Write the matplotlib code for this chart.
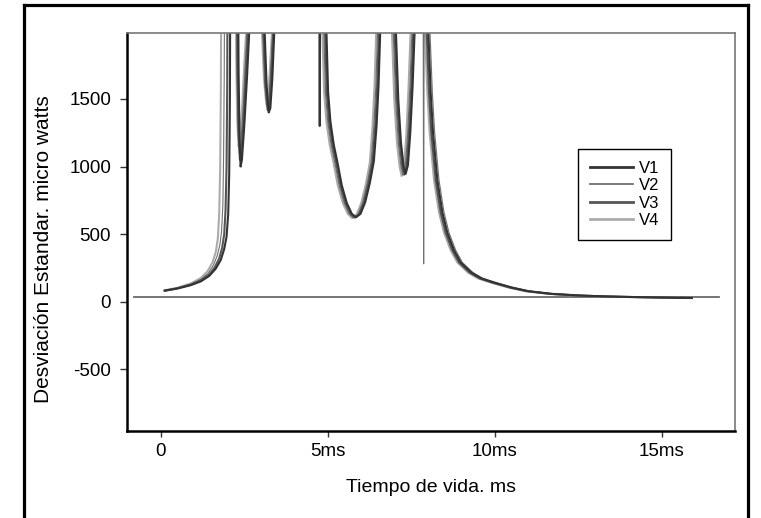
import matplotlib
matplotlib.use("Agg")
import matplotlib.pyplot as plt
from matplotlib.lines import Line2D

plt.rcParams['font.family'] = ['Liberation Sans', 'DejaVu Sans']
plt.rcParams['axes.unicode_minus'] = False

# Section 0: Data (values above ~2000 are off the top of the plot)

series_names = ['V1', 'V2', 'V3', 'V4']

t_v1 = [0.12, 0.5, 0.9, 1.2, 1.45, 1.65, 1.8, 1.9, 1.97, 2.02, 2.05, 2.07, 2.09,
        2.30, 2.33, 2.36, 2.39, 2.43, 2.50, 2.58, 2.65, 2.70,
        3.05, 3.11, 3.17, 3.23, 3.28, 3.34, 3.40, 3.45,
        4.74, 4.76, 4.78,
        4.93, 4.96, 5.01, 5.08, 5.18, 5.29, 5.42, 5.57, 5.72, 5.85, 5.98, 6.12, 6.26, 6.38, 6.46, 6.52, 6.57, 6.61,
        6.99, 7.04, 7.11, 7.19, 7.27, 7.33, 7.40, 7.47, 7.54, 7.60, 7.64,
        7.96, 8.01, 8.08, 8.15, 8.28, 8.43, 8.58, 8.78, 8.98, 9.3, 9.6, 10.0, 10.5, 11.0, 11.7, 12.5, 13.3, 14.0, 14.9, 15.9]
y_v1 = [81, 97, 122, 150, 190, 245, 310, 390, 480, 650, 950, 1500, 3000,
        3000, 1700, 1200, 1000, 1050, 1300, 1650, 2000, 3000,
        3000, 2000, 1600, 1400, 1430, 1650, 2000, 3000,
        3000, 1300, 3000,
        3000, 2000, 1550, 1330, 1160, 1030, 860, 730, 650, 625, 650, 735, 880, 1040, 1300, 1600, 2000, 3000,
        3000, 2000, 1500, 1180, 1000, 945, 1010, 1250, 1600, 2000, 3000,
        3000, 2000, 1550, 1250, 900, 660, 510, 380, 290, 215, 172, 140, 105, 78, 58, 46, 39, 35, 31, 27]

t_v2 = [0.12, 0.5, 0.9, 1.2, 1.42, 1.58, 1.69, 1.77, 1.82, 1.86, 1.88, 1.90, 1.92,
        2.25, 2.28, 2.31, 2.35, 2.39, 2.46, 2.53, 2.58, 2.63,
        2.99, 3.05, 3.11, 3.18, 3.23, 3.29, 3.35, 3.40,
        4.85, 4.88, 4.93, 5.00, 5.10, 5.21, 5.34, 5.49, 5.64, 5.77, 5.90, 6.04, 6.18, 6.30, 6.38, 6.44, 6.49, 6.53,
        6.91, 6.96, 7.03, 7.11, 7.19, 7.25, 7.32, 7.39, 7.46, 7.52, 7.56,
        7.85, 7.87, 7.89,
        8.01, 8.06, 8.13, 8.20, 8.33, 8.48, 8.63, 8.83, 9.03, 9.35, 9.65, 10.05, 10.55, 11.05, 11.75, 12.55, 13.35, 14.05, 14.95, 15.8]
y_v2 = [83, 101, 130, 165, 210, 270, 340, 420, 520, 720, 1050, 1650, 3000,
        3000, 1750, 1300, 1100, 1150, 1400, 1750, 2000, 3000,
        3000, 2000, 1620, 1440, 1470, 1700, 2000, 3000,
        3000, 2000, 1550, 1330, 1160, 1030, 860, 730, 650, 620, 645, 730, 875, 1035, 1300, 1600, 2000, 3000,
        3000, 2000, 1500, 1180, 1000, 935, 1000, 1240, 1600, 2000, 3000,
        3000, 280, 3000,
        3000, 2000, 1550, 1250, 900, 660, 510, 380, 290, 215, 172, 140, 105, 78, 58, 46, 39, 35, 31, 28]

t_v3 = [0.12, 0.5, 0.9, 1.2, 1.45, 1.62, 1.75, 1.84, 1.90, 1.94, 1.97, 1.99, 2.01,
        2.27, 2.30, 2.33, 2.37, 2.41, 2.48, 2.55, 2.61, 2.66,
        3.02, 3.08, 3.14, 3.20, 3.25, 3.31, 3.37, 3.42,
        4.89, 4.92, 4.97, 5.04, 5.14, 5.25, 5.38, 5.53, 5.68, 5.81, 5.94, 6.08, 6.22, 6.34, 6.42, 6.48, 6.53, 6.57,
        6.95, 7.00, 7.07, 7.15, 7.23, 7.29, 7.36, 7.43, 7.50, 7.56, 7.60,
        7.91, 7.96, 8.03, 8.10, 8.23, 8.38, 8.53, 8.73, 8.93, 9.25, 9.55, 9.95, 10.45, 10.95, 11.65, 12.45, 13.25, 13.95, 14.85, 15.7]
y_v3 = [82, 99, 126, 157, 200, 255, 320, 400, 500, 680, 1000, 1600, 3000,
        3000, 1700, 1250, 1050, 1100, 1350, 1700, 2000, 3000,
        3000, 2000, 1600, 1420, 1450, 1680, 2000, 3000,
        3000, 2000, 1550, 1330, 1160, 1030, 860, 730, 650, 622, 648, 735, 880, 1040, 1300, 1600, 2000, 3000,
        3000, 2000, 1500, 1180, 1000, 940, 1005, 1250, 1600, 2000, 3000,
        3000, 2000, 1550, 1250, 900, 660, 510, 380, 290, 215, 172, 140, 105, 78, 58, 46, 39, 35, 31, 28]

t_v4 = [0.12, 0.5, 0.9, 1.2, 1.4, 1.55, 1.65, 1.71, 1.75, 1.78, 1.80, 1.82,
        2.23, 2.26, 2.29, 2.33, 2.37, 2.44, 2.51, 2.56, 2.61,
        2.97, 3.03, 3.09, 3.16, 3.21, 3.27, 3.33, 3.38,
        4.81, 4.84, 4.89, 4.96, 5.06, 5.17, 5.30, 5.45, 5.60, 5.73, 5.86, 6.00, 6.14, 6.26, 6.34, 6.40, 6.45, 6.49,
        6.87, 6.92, 6.99, 7.07, 7.15, 7.21, 7.28, 7.35, 7.42, 7.48, 7.52,
        7.86, 7.91, 7.98, 8.05, 8.18, 8.33, 8.48, 8.68, 8.88, 9.2, 9.5, 9.9, 10.4, 10.9, 11.6, 12.4, 13.2, 13.9, 14.8, 15.5]
y_v4 = [84, 103, 135, 175, 225, 290, 370, 470, 650, 1000, 1600, 3000,
        3000, 1800, 1350, 1150, 1200, 1450, 1800, 2000, 3000,
        3000, 2000, 1650, 1460, 1490, 1720, 2000, 3000,
        3000, 2000, 1550, 1330, 1160, 1030, 860, 730, 650, 618, 643, 728, 870, 1030, 1300, 1600, 2000, 3000,
        3000, 2000, 1500, 1180, 1000, 930, 995, 1230, 1600, 2000, 3000,
        3000, 2000, 1550, 1250, 900, 660, 510, 380, 290, 215, 172, 140, 105, 78, 58, 46, 39, 35, 31, 29]

baseline_value = 35
baseline_span = [-0.8, 16.7]

x_ticks = [0, 5, 10, 15]
x_tick_labels = ['0', '5ms', '10ms', '15ms']
y_ticks = [-500, 0, 500, 1000, 1500]

# Section 1: Figure layout

fig = plt.figure(figsize=(7.61, 5.18), dpi=100)
W, H = 761, 518
ax = fig.add_axes([127 / W, 1 - 431 / H, (735 - 127) / W, (431 - 33) / H])

# outer frame around the chart (open at the bottom edge of the image)
frame_kw = dict(color='black', linewidth=2.3, transform=fig.transFigure)
fig.add_artist(Line2D([24 / W, 24 / W], [0, 1 - 5 / H], **frame_kw))
fig.add_artist(Line2D([24 / W, 748 / W], [1 - 5 / H, 1 - 5 / H], **frame_kw))
fig.add_artist(Line2D([748 / W, 748 / W], [0, 1 - 5 / H], **frame_kw))

# Section 2: Curves

styles = {
    'V1': dict(color='#333333', linewidth=1.5),
    'V2': dict(color='#707070', linewidth=0.8),
    'V3': dict(color='#555555', linewidth=1.5),
    'V4': dict(color='#ababab', linewidth=1.5),
}
data = {'V1': (t_v1, y_v1), 'V2': (t_v2, y_v2), 'V3': (t_v3, y_v3), 'V4': (t_v4, y_v4)}

ax.plot(baseline_span, [baseline_value, baseline_value], color='#6a6a6a', linewidth=1.3)
for name in ['V4', 'V2', 'V3', 'V1']:
    t, y = data[name]
    ax.plot(t, y, label=name, **styles[name])

ax.set_xlim(-1.01, 17.19)
ax.set_ylim(-957, 1988)

# Section 3: Axes styling

for side in ['left', 'bottom']:
    ax.spines[side].set_color('black')
    ax.spines[side].set_linewidth(1.8)
for side in ['top', 'right']:
    ax.spines[side].set_color('#777777')
    ax.spines[side].set_linewidth(1.2)

ax.set_xticks(x_ticks)
ax.set_xticklabels(x_tick_labels)
ax.set_yticks(y_ticks)
ax.tick_params(direction='out', width=1, color='#333333', labelsize=13.5)
ax.tick_params(axis='x', length=4, pad=4.5)
ax.tick_params(axis='y', length=5, pad=6.5)

fig.text(431 / W, 1 - 487 / H, 'Tiempo de vida. ms', ha='center', va='center', fontsize=14)
fig.text(44 / W, 1 - 249 / H, 'Desviación Estandar. micro watts', ha='center', va='center',
         rotation=90, fontsize=15)

handles, labels = ax.get_legend_handles_labels()
order = [labels.index(n) for n in series_names]
leg = ax.legend([handles[i] for i in order], [labels[i] for i in order],
                loc='upper left', bbox_to_anchor=(578 / W, 1 - 149 / H),
                bbox_transform=fig.transFigure, borderaxespad=0,
                fontsize=12, labelspacing=0.15, handlelength=2.6, handletextpad=0.36,
                borderpad=0.7, fancybox=False, framealpha=1, edgecolor='black')
leg.get_frame().set_linewidth(1.0)
for line in leg.get_lines():
    line.set_linewidth(line.get_linewidth() + 0.5)

fig.savefig('out.png', dpi=100)
